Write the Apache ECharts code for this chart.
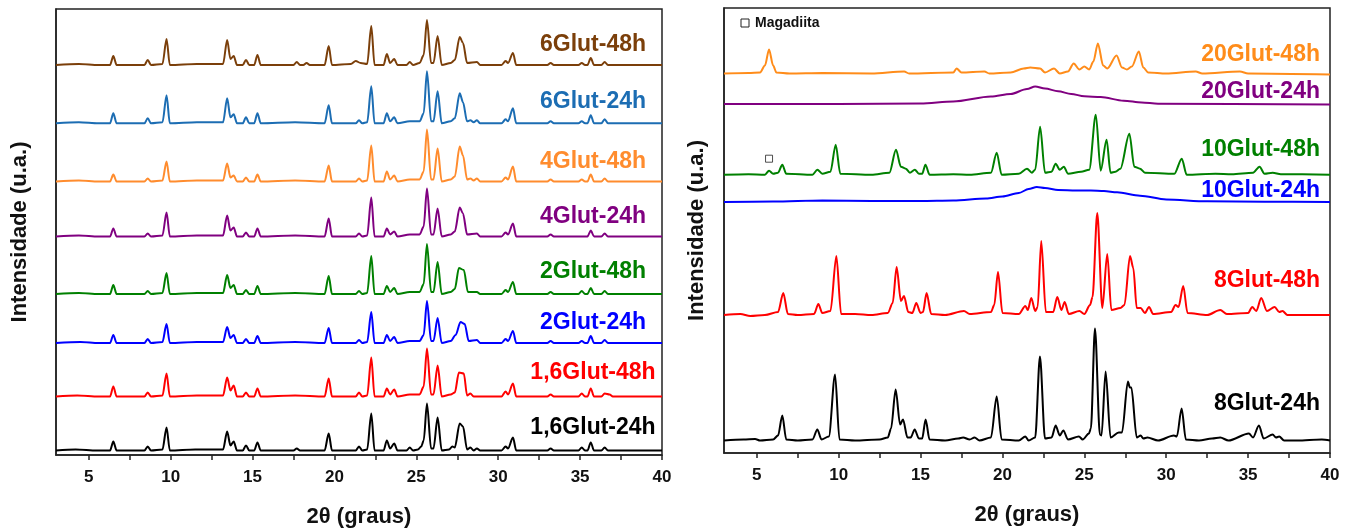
<!DOCTYPE html>
<html>
<head>
  <meta charset="UTF-8">
  <title>DRX - Glut</title>
  <script src="https://cdn.jsdelivr.net/npm/echarts@6/dist/echarts.min.js"></script>
  <style>
    html, body { margin: 0; padding: 0; background: #fff; }
    #main { width: 1354px; height: 528px; }
  </style>
</head>
<body>
<div id="main"></div>
<script>
  // x axis
  const tickValues = [5, 7.5, 10, 12.5, 15, 17.5, 20, 22.5, 25, 27.5, 30, 32.5, 35, 37.5, 40];
  const tickLabels = [5, 10, 15, 20, 25, 30, 35, 40];

  // left panel: [2theta, intensity above own baseline], bottom to top
  const leftNames = ['1,6Glut-24h', '1,6Glut-48h', '2Glut-24h', '2Glut-48h', '4Glut-24h', '4Glut-48h', '6Glut-24h', '6Glut-48h'];
  const leftOffsets = [4.5, 58.5, 112, 161, 218.5, 273.5, 331.7, 390];

  const glut16_24 = [[3,0],[4.2,1],[5.5,0],[6.3,0],[6.5,9],[6.7,0],[8.4,0],[8.6,4],[8.8,0],[9.5,1],[9.75,23],[9.95,0],[11.5,1],[13.2,1],[13.45,19],[13.65,5],[13.85,9],[14.05,0],[14.4,0],[14.6,5],[14.8,0],[15.1,0],[15.3,8],[15.5,0],[17.5,0],[17.7,2],[17.9,0],[19.4,0],[19.65,17],[19.85,0],[21.3,0],[21.5,4],[21.7,0],[22.0,1],[22.25,37],[22.45,0],[23.0,0],[23.2,10],[23.4,2],[23.65,7],[23.85,0],[24.4,0],[24.6,3],[24.8,0],[25.1,1],[25.3,4],[25.45,10],[25.65,47],[25.9,2],[26.05,2],[26.3,33],[26.55,0],[27.0,1],[27.2,4],[27.35,3],[27.65,27],[27.85,24],[28.1,1],[28.3,3],[28.5,0],[28.7,2],[28.9,0],[30.2,0],[30.45,4],[30.6,2],[30.9,13],[31.1,0],[33.0,0],[33.2,2],[33.4,0],[34.9,0],[35.1,3],[35.3,0],[35.45,0],[35.65,8],[35.85,0],[36.3,0],[36.5,3],[36.7,0],[40,0]];
  const glut16_48 = [[3,0],[4.3,1],[5.6,0],[6.3,0],[6.5,10],[6.7,0],[8.4,0],[8.6,4],[8.8,0],[9.5,1],[9.75,23],[9.95,0],[11.6,1],[13.2,1],[13.45,19],[13.65,6],[13.85,11],[14.05,0],[14.4,0],[14.6,4],[14.8,0],[15.1,0],[15.3,8],[15.5,0],[17.6,1],[19.4,0],[19.65,18],[19.85,0],[21.3,0],[21.5,4],[21.7,0],[22.0,1],[22.25,39],[22.45,0],[23.0,0],[23.2,8],[23.4,2],[23.65,7],[23.85,0],[24.6,2],[25.2,2],[25.45,10],[25.65,48],[25.9,2],[26.05,2],[26.3,31],[26.55,0],[27.1,2],[27.35,4],[27.6,24],[27.9,23],[28.1,1],[28.3,3],[28.5,0],[30.2,0],[30.45,5],[30.6,2],[30.9,13],[31.1,0],[33.0,0],[33.2,2],[33.4,0],[34.9,0],[35.1,3],[35.3,0],[35.45,0],[35.65,8],[35.85,0],[36.3,0],[36.5,3],[36.8,2],[37.0,0],[40,0]];
  const glut2_24 = [[3,0],[4.5,1],[5.6,0],[6.3,0],[6.5,8],[6.7,0],[8.4,0],[8.6,4],[8.8,0],[9.5,1],[9.75,19],[9.95,0],[11.6,1],[13.2,1],[13.45,16],[13.65,5],[13.85,8],[14.05,0],[14.4,0],[14.6,4],[14.8,0],[15.1,0],[15.3,7],[15.5,0],[17.6,1],[19.4,0],[19.65,15],[19.85,0],[21.3,0],[21.5,3],[21.7,0],[22.0,1],[22.25,31],[22.45,0],[23.0,0],[23.2,8],[23.4,2],[23.65,6],[23.85,0],[24.6,2],[25.2,2],[25.45,8],[25.65,42],[25.9,2],[26.05,2],[26.3,25],[26.55,0],[27.1,2],[27.4,8],[27.7,21],[27.95,19],[28.2,2],[28.7,3],[28.9,0],[30.2,0],[30.45,4],[30.6,2],[30.9,12],[31.1,0],[33.0,0],[33.2,2],[33.4,0],[34.9,0],[35.1,2],[35.3,0],[35.45,0],[35.65,7],[35.85,0],[36.3,0],[36.5,3],[36.7,0],[40,0]];
  const glut2_48 = [[3,0],[4.4,1],[5.6,0],[6.3,0],[6.5,9],[6.7,0],[8.4,0],[8.6,3],[8.8,0],[9.5,1],[9.75,21],[9.95,0],[11.6,1],[13.2,1],[13.45,19],[13.65,6],[13.85,9],[14.05,0],[14.4,0],[14.6,4],[14.8,0],[15.1,0],[15.3,8],[15.5,0],[17.6,1],[19.4,0],[19.65,18],[19.85,0],[21.3,0],[21.5,3],[21.7,0],[22.0,1],[22.25,38],[22.45,0],[23.0,0],[23.2,8],[23.4,2],[23.65,6],[23.85,0],[24.6,2],[25.2,2],[25.45,10],[25.65,50],[25.9,2],[26.05,2],[26.3,32],[26.55,0],[27.1,2],[27.35,5],[27.6,26],[27.9,24],[28.15,2],[28.7,2],[28.9,0],[30.2,0],[30.45,4],[30.6,2],[30.9,12],[31.1,0],[33.0,0],[33.2,2],[33.4,0],[34.9,0],[35.1,3],[35.3,0],[35.45,0],[35.65,6],[35.85,0],[36.3,0],[36.5,3],[36.7,0],[40,0]];
  const glut4_24 = [[3,0],[4.4,1],[5.6,0],[6.3,0],[6.5,8],[6.7,0],[8.4,0],[8.6,3],[8.8,0],[9.5,1],[9.75,24],[9.95,0],[11.6,1],[13.2,1],[13.45,21],[13.65,6],[13.85,9],[14.05,0],[14.4,0],[14.6,4],[14.8,0],[15.1,0],[15.3,8],[15.5,0],[17.6,1],[19.4,0],[19.65,18],[19.85,0],[21.3,0],[21.5,3],[21.7,0],[22.0,1],[22.25,39],[22.45,0],[23.0,0],[23.2,8],[23.4,2],[23.65,5],[23.85,0],[24.6,2],[25.2,2],[25.45,10],[25.65,48],[25.9,2],[26.05,2],[26.3,28],[26.55,0],[27.1,2],[27.35,5],[27.65,29],[27.85,23],[28.1,2],[28.7,3],[28.9,0],[30.2,0],[30.45,4],[30.6,2],[30.9,13],[31.1,0],[33.0,0],[33.2,2],[33.4,0],[35.45,0],[35.65,6],[35.85,0],[36.3,0],[36.5,3],[36.7,0],[40,0]];
  const glut4_48 = [[3,0],[4.4,1],[5.6,0],[6.3,0],[6.5,7],[6.7,0],[8.4,0],[8.6,3],[8.8,0],[9.5,1],[9.75,20],[9.95,0],[11.6,1],[13.2,1],[13.45,18],[13.65,4],[13.85,6],[14.05,0],[14.4,0],[14.6,4],[14.8,0],[15.1,0],[15.3,7],[15.5,0],[17.6,1],[19.4,0],[19.65,16],[19.85,0],[21.3,0],[21.5,3],[21.7,0],[22.0,1],[22.25,36],[22.45,0],[23.0,0],[23.2,10],[23.4,2],[23.65,6],[23.85,0],[24.6,2],[25.2,2],[25.45,10],[25.65,52],[25.9,2],[26.05,2],[26.3,33],[26.55,0],[27.1,2],[27.35,5],[27.65,35],[27.85,26],[28.1,2],[28.3,3],[28.5,1],[28.7,3],[28.9,0],[30.2,0],[30.45,4],[30.6,2],[30.9,15],[31.1,0],[33.0,0],[33.2,2],[33.4,0],[34.9,0],[35.1,2],[35.3,0],[35.45,0],[35.65,7],[35.85,0],[36.3,0],[36.5,3],[36.7,0],[40,0]];
  const glut6_24 = [[3,0],[4.4,1],[5.6,0],[6.3,0],[6.5,10],[6.7,0],[8.4,0],[8.6,5],[8.8,0],[9.5,1],[9.75,28],[9.95,0],[11.6,1],[13.2,1],[13.45,25],[13.65,6],[13.85,9],[14.05,0],[14.4,0],[14.6,6],[14.8,0],[15.1,0],[15.3,10],[15.5,0],[17.6,1],[19.4,0],[19.65,18],[19.85,0],[21.3,0],[21.5,3],[21.7,0],[22.0,1],[22.25,37],[22.45,0],[23.0,0],[23.2,10],[23.4,2],[23.65,6],[23.85,0],[24.6,2],[25.2,2],[25.45,10],[25.65,52],[25.9,2],[26.05,2],[26.3,32],[26.55,0],[27.1,2],[27.35,5],[27.65,30],[27.85,21],[28.1,2],[28.3,3],[28.5,1],[28.7,3],[28.9,0],[30.2,0],[30.45,4],[30.6,2],[30.9,15],[31.1,0],[33.0,0],[33.2,2],[33.4,0],[34.9,0],[35.1,2],[35.3,0],[35.45,0],[35.65,8],[35.85,0],[36.3,0],[36.5,4],[36.7,0],[40,0]];
  const glut6_48 = [[3,0],[4.4,1],[5.6,0],[6.3,0],[6.5,9],[6.7,0],[8.4,0],[8.6,5],[8.8,0],[9.5,1],[9.75,26],[9.95,0],[11.6,1],[13.2,1],[13.45,25],[13.65,6],[13.85,9],[14.05,0],[14.4,0],[14.6,5],[14.8,0],[15.1,0],[15.3,10],[15.5,0],[17.5,0],[17.7,3],[17.9,0],[18.1,0],[18.3,2],[18.5,0],[19.4,0],[19.65,19],[19.85,0],[21.0,1],[21.3,4],[21.6,2],[22.0,1],[22.25,39],[22.45,0],[23.0,0],[23.2,11],[23.4,2],[23.65,6],[23.85,0],[24.4,0],[24.6,3],[24.8,0],[25.2,2],[25.45,10],[25.65,45],[25.9,2],[26.05,2],[26.3,29],[26.55,0],[27.1,2],[27.35,5],[27.65,28],[27.85,22],[28.1,2],[28.7,3],[28.9,0],[30.2,0],[30.45,4],[30.6,2],[30.9,12],[31.1,0],[33.0,0],[33.2,2],[33.4,0],[34.9,0],[35.1,2],[35.3,0],[35.45,0],[35.65,7],[35.85,0],[36.3,0],[36.5,3],[36.7,0],[40,0]];

  // right panel, bottom to top
  const rightNames = ['8Glut-24h', '8Glut-48h', '10Glut-24h', '10Glut-48h', '20Glut-24h', '20Glut-48h'];
  const rightOffsets = [12.5, 138, 251, 278.3, 349, 379.5];

  const glut8_24 = [[3,0],[4.2,1],[4.9,1.5],[5.2,0],[6.0,1],[6.3,5],[6.56,25],[6.8,1],[7.5,0],[8.4,1],[8.7,11],[8.95,1],[9.4,4],[9.78,66],[10.05,1],[11,0],[12.5,1],[13.0,3],[13.2,12],[13.48,51],[13.75,16],[13.93,21],[14.2,3],[14.4,3],[14.64,11],[14.9,2],[15.1,2],[15.31,21],[15.55,1],[16.5,0],[17.3,2],[17.6,3],[18.0,1],[18.3,3],[18.6,0],[19.3,3],[19.65,44],[19.95,1],[21.0,0],[21.4,4],[21.6,0],[22.0,3],[22.29,84],[22.6,2],[23.0,3],[23.25,15],[23.5,5],[23.72,10],[24.0,1],[24.67,4],[24.9,1],[25.28,7],[25.4,12],[25.65,112],[25.95,6],[26.05,5],[26.3,69],[26.6,3],[27.1,8],[27.3,8],[27.66,59],[27.78,53],[27.87,53],[28.2,3],[28.44,5],[28.6,2],[28.85,3],[29.5,0],[30.47,5],[30.65,4],[30.94,32],[31.2,1],[32,0],[32.8,2],[33.3,3],[33.8,0],[35.05,7],[35.3,3],[35.66,15],[35.95,2],[36.5,6],[36.7,3],[36.9,4],[37.2,0],[38,0],[39.5,1],[40,0]];
  const glut8_48 = [[3,0],[4,1],[4.6,-1],[5.5,0],[6.3,3],[6.62,22],[6.9,1],[7.5,0],[8.5,1],[8.76,11],[9.0,2],[9.5,4],[9.86,59],[10.15,1],[11,1],[12,0],[13.0,2],[13.3,12],[13.54,48],[13.8,14],[13.99,19],[14.25,3],[14.5,2],[14.74,12],[15.0,2],[15.15,3],[15.37,22],[15.65,1],[16.5,0],[17.65,4],[18,1],[19.3,3],[19.5,10],[19.73,43],[20.0,2],[21.0,1],[21.4,9],[21.55,5],[21.76,17],[22.0,4],[22.15,8],[22.37,74],[22.65,3],[23.1,3],[23.35,18],[23.6,5],[23.8,13],[24.05,1],[24.7,4],[25.0,1],[25.35,10],[25.5,18],[25.79,102],[26.1,7],[26.4,61],[26.65,5],[27.2,7],[27.45,10],[27.79,59],[27.99,47],[28.2,7],[28.44,7],[28.7,2],[28.95,8],[29.2,1],[30.3,3],[30.57,10],[30.75,8],[31.04,29],[31.3,2],[32.5,0],[33.3,5],[33.7,1],[35.0,2],[35.25,8],[35.5,4],[35.8,17],[36.15,4],[36.62,8],[36.9,3],[37.1,4],[37.4,0],[40,0]];
  const glut10_24 = [[3,0],[6,0.5],[9,1.5],[12,1],[15,1],[17,1.5],[19,3.5],[20,5.5],[21,9],[21.6,13],[22.1,15],[22.6,14],[23.4,12],[24.5,11.5],[25.4,11.5],[26.2,11],[27,9.7],[28.4,6.3],[30,2.5],[32.5,0.7],[36,0.2],[40,0]];
  const glut10_48 = [[3,0],[4.5,0.5],[5.5,0],[5.75,4],[6.0,1],[6.3,2],[6.56,10],[6.8,1],[8.4,0],[8.7,5],[9.0,1],[9.5,3],[9.82,30],[10.1,1],[12,0],[13.1,2],[13.5,25],[13.8,8],[14.1,6],[14.35,2],[14.65,5],[14.9,1],[15.1,1],[15.3,10],[15.55,0],[17,0.5],[18,0],[19.3,2],[19.65,22],[19.95,0],[21,1],[21.5,6],[21.8,2],[22.0,5],[22.3,48],[22.6,2],[23.0,3],[23.25,11],[23.5,5],[23.75,8],[24.0,1],[24.8,3],[25.3,5],[25.7,60],[26.0,4],[26.36,35],[26.6,2],[26.9,3],[27.2,6],[27.75,41],[28.05,8],[28.4,6],[28.7,2],[30.5,1],[30.95,16],[31.25,0],[33,1],[34,0.5],[35.3,2],[35.7,8],[36,1],[36.5,2],[37,0.5],[40,0]];
  const glut20_24 = [[3,0],[10,0],[15,0.5],[17,2.5],[19.3,7.5],[20.5,10],[21.5,15],[22.0,17.5],[22.6,15.5],[23.4,12.7],[24.2,10],[25,7.7],[26,7],[27.4,3.3],[28.5,1.5],[29.5,0.3],[40,-0.5]];
  const glut20_48 = [[3,0],[4.5,0.5],[5.2,1],[5.5,8],[5.75,24],[6.0,8],[6.2,1],[7,0],[9,0.5],[12,0],[14,2],[14.3,0],[17,1],[17.2,5],[17.5,1],[18.9,2],[19.2,0],[20.5,1],[21.3,5],[21.7,6],[22.3,5],[22.6,1],[23.15,5],[23.5,0],[24.0,2],[24.35,10],[24.7,4],[25.0,7],[25.3,4],[25.55,12],[25.83,30],[26.15,8],[26.4,5],[26.97,18],[27.3,6],[27.6,4],[27.9,7],[28.33,22],[28.6,6],[28.9,1],[30,0],[31.8,2],[32.2,0],[34.5,2],[35,0],[40,-1]];

  // magadiite marker on 10Glut-48h
  const magadiitaMark = [[5.75, 294.3]];

  const leftData = [glut16_24, glut16_48, glut2_24, glut2_48, glut4_24, glut4_48, glut6_24, glut6_48];
  const rightData = [glut8_24, glut8_48, glut10_24, glut10_48, glut20_24, glut20_48];

  const leftColors = ['#000000', '#ff0000', '#0000ff', '#008000', '#800080', '#ff8c2e', '#1c6db3', '#7b3f0a'];
  const rightColors = ['#000000', '#ff0000', '#0000ff', '#008000', '#800080', '#ff8c1a'];
  const font = '"Liberation Sans", Arial, sans-serif';

  function xAxisFor(grid) {
    return {
      gridIndex: grid, type: 'value', min: 3, max: 40,
      axisLine: { show: true, onZero: false, lineStyle: { color: '#222', width: 1.5 } },
      axisTick: { show: true, customValues: tickValues, length: 5, lineStyle: { color: '#222', width: 1.5 } },
      axisLabel: { customValues: tickLabels, color: '#111', fontWeight: 'bold', fontSize: 17, margin: 14, fontFamily: font },
      splitLine: { show: false },
      name: '2θ (graus)', nameLocation: 'middle', nameGap: 51,
      nameTextStyle: { color: '#111', fontWeight: 'bold', fontSize: 22, fontFamily: font }
    };
  }
  function yAxisFor(grid, max, gap) {
    return {
      gridIndex: grid, type: 'value', min: 0, max: max,
      axisLine: { show: true, lineStyle: { color: '#222', width: 1.5 } },
      axisTick: { show: false }, axisLabel: { show: false }, splitLine: { show: false },
      name: 'Intensidade (u.a.)', nameLocation: 'middle', nameGap: gap,
      nameTextStyle: { color: '#111', fontWeight: 'bold', fontSize: 22, fontFamily: font }
    };
  }

  const series = [];
  leftData.forEach((d, i) => {
    series.push({
      type: 'line', xAxisIndex: 0, yAxisIndex: 0, name: leftNames[i],
      data: d.map(p => [p[0], p[1] + leftOffsets[i]]),
      symbol: 'none', smooth: 0.3, smoothMonotone: 'x',
      lineStyle: { color: leftColors[i], width: 2 }
    });
  });
  rightData.forEach((d, i) => {
    series.push({
      type: 'line', xAxisIndex: 1, yAxisIndex: 1, name: rightNames[i],
      data: d.map(p => [p[0], p[1] + rightOffsets[i]]),
      symbol: 'none', smooth: 0.3, smoothMonotone: 'x',
      lineStyle: { color: rightColors[i], width: 2 }
    });
  });
  series.push({
    type: 'scatter', xAxisIndex: 1, yAxisIndex: 1, data: magadiitaMark,
    symbol: 'rect', symbolSize: 7,
    itemStyle: { color: '#fff', borderColor: '#222', borderWidth: 1 }
  });

  // sample labels (pixel positions)
  const leftLabelY = [428, 373, 323, 272, 217, 162, 102, 45];
  const rightLabelY = [404, 281, 191, 150, 92, 55];
  const graphic = [];
  leftNames.forEach((n, i) => graphic.push({
    type: 'text', x: 593, y: leftLabelY[i],
    style: { text: n, fill: leftColors[i], font: 'bold 23px ' + font, textAlign: 'center', textVerticalAlign: 'middle' }
  }));
  rightNames.forEach((n, i) => graphic.push({
    type: 'text', x: 1320, y: rightLabelY[i],
    style: { text: n, fill: rightColors[i], font: 'bold 23px ' + font, textAlign: 'right', textVerticalAlign: 'middle' }
  }));
  graphic.push({ type: 'rect', shape: { x: 741, y: 19, width: 8, height: 8 }, style: { fill: '#fff', stroke: '#222', lineWidth: 1 } });
  graphic.push({ type: 'text', x: 755, y: 23, style: { text: 'Magadiita', fill: '#111', font: 'bold 14px ' + font, textVerticalAlign: 'middle' } });

  const chart = echarts.init(document.getElementById('main'), null, { renderer: 'canvas' });
  chart.setOption({
    animation: false,
    backgroundColor: '#fff',
    grid: [
      { left: 56, top: 9, width: 606, height: 446, outerBoundsMode: 'none', containLabel: false, show: true, borderColor: '#222', borderWidth: 1.5 },
      { left: 724, top: 8, width: 606, height: 445, outerBoundsMode: 'none', containLabel: false, show: true, borderColor: '#222', borderWidth: 1.5 }
    ],
    xAxis: [xAxisFor(0), xAxisFor(1)],
    yAxis: [yAxisFor(0, 446, 25), yAxisFor(1, 445, 16)],
    series: series,
    graphic: graphic
  });
</script>
</body>
</html>
